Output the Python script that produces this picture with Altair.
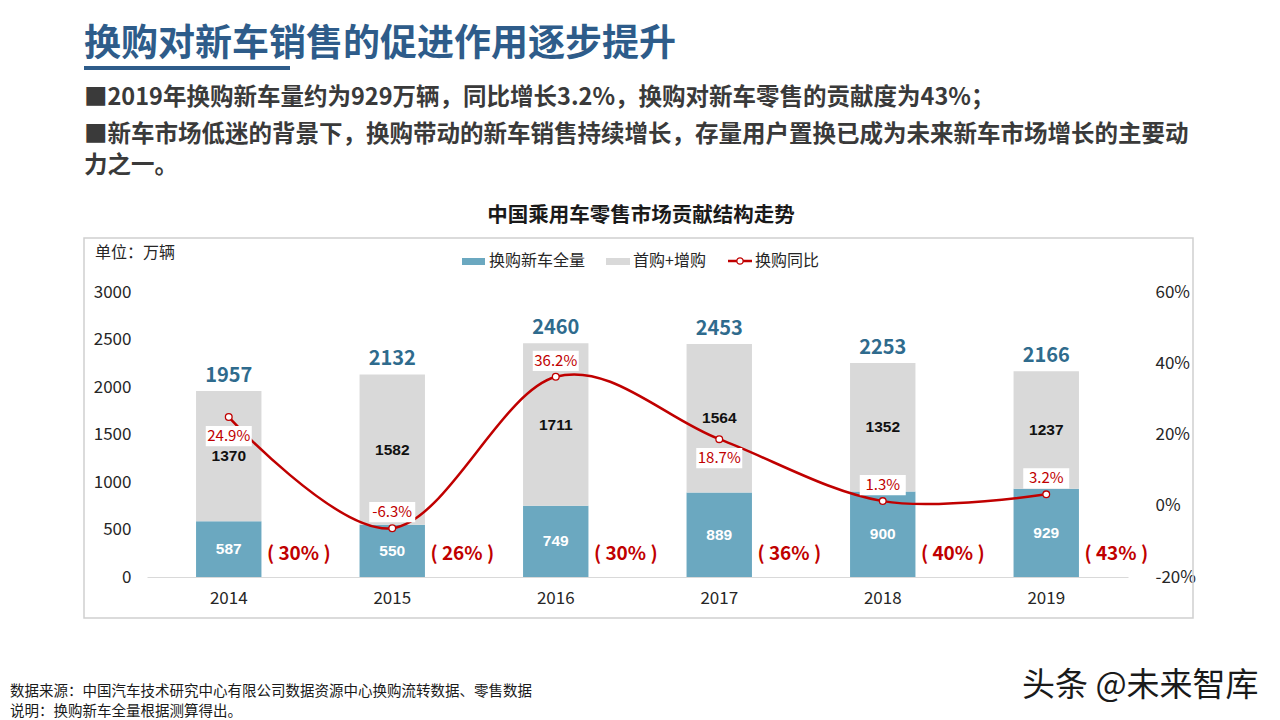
import altair as alt
import pandas as pd

# ---- data -------------------------------------------------------------
years = ["2014", "2015", "2016", "2017", "2018", "2019"]
replacement = [587, 550, 749, 889, 900, 929]          # 换购新车全量 (万辆)
first_and_add = [1370, 1582, 1711, 1564, 1352, 1237]  # 首购+增购 (万辆)
totals = [1957, 2132, 2460, 2453, 2253, 2166]         # 新车零售总量 (万辆)
yoy = [0.249, -0.063, 0.362, 0.187, 0.013, 0.032]     # 换购同比
share = [30, 26, 30, 36, 40, 43]                      # 换购贡献度 (%)
yoy_label_side = ["below", "above", "above", "below", "above", "above"]

seg_names = ["换购新车全量", "首购+增购"]
series_line = "换购同比"

# ---- style ------------------------------------------------------------
FONT = "Noto Sans CJK SC"
NUM_FONT = "Liberation Sans"
BLUE = "#6BA8C0"
GRAY = "#D9D9D9"
RED = "#C00000"
HEAD_BLUE = "#2E5C8A"
TOTAL_BLUE = "#2F6B8D"
DARK = "#3A3A3A"
AXIS_TXT = "#262626"

# ---- tables -----------------------------------------------------------
seg_rows = []
for i, yr in enumerate(years):
    b, g = replacement[i], first_and_add[i]
    seg_rows.append(dict(year=yr, seg=seg_names[0], base=0, top=b, mid=b / 2, value=b))
    seg_rows.append(dict(year=yr, seg=seg_names[1], base=b, top=b + g, mid=b + g / 2, value=g))
seg_df = pd.DataFrame(seg_rows)

tot_df = pd.DataFrame({"year": years, "total": totals,
                       "share_txt": [f"( {s}% )" for s in share]})

line_df = pd.DataFrame({
    "year": years,
    "yoy": yoy,
    "txt": [f"{v * 100:.1f}%" for v in yoy],
    "side": yoy_label_side,
})

one = alt.Data(values=[{"k": 0}])

x_scale = alt.Scale(domain=years, paddingInner=0.6, paddingOuter=0.3)
y_left = alt.Scale(domain=[0, 3000])
y_right = alt.Scale(domain=[-0.2, 0.6])

x_axis = alt.Axis(title=None, ticks=False, domainColor="#D9D9D9", domainWidth=1.2,
                  labelPadding=13, labelAngle=0, labelFontSize=17, labelColor=AXIS_TXT)
left_axis = alt.Axis(title=None, values=[0, 500, 1000, 1500, 2000, 2500, 3000], format="d",
                     ticks=False, domain=False, grid=False, labelPadding=16,
                     labelFontSize=17, labelColor=AXIS_TXT)
right_axis = alt.Axis(title=None, orient="right", values=[-0.2, 0, 0.2, 0.4, 0.6],
                      labelExpr="replace(format(datum.value, '.0%'), '\u2212', '-')",
                      ticks=False, domain=False, grid=False, labelPadding=27,
                      labelFontSize=17, labelColor=AXIS_TXT)

X = alt.X("year:N", scale=x_scale, axis=x_axis)


def YL(field):
    return alt.Y(field, scale=y_left, axis=left_axis)


def YR(field):
    return alt.Y(field, scale=y_right, axis=right_axis)


def note(text, x, y, size, color=DARK, weight="normal", align="left", font=FONT):
    return alt.Chart(one).mark_text(
        text=text, align=align, baseline="middle", fontSize=size,
        fontWeight=weight, color=color, font=font
    ).encode(x=alt.value(x), y=alt.value(y))


def box(x, x2, y, y2, **kw):
    return alt.Chart(one).mark_rect(**kw).encode(
        x=alt.value(x), x2=alt.value(x2), y=alt.value(y), y2=alt.value(y2))


# ---- page decorations (pixel positions relative to the plot origin) ---
frame = box(-63, 1046, -54, 326, fillOpacity=0, stroke="#D0D0D0", strokeWidth=1.5)
heading = note("换购对新车销售的促进作用逐步提升", -63, -247, 37, HEAD_BLUE, "bold")
underline = box(-63, 143, -226, -222, color=HEAD_BLUE)
bullet1 = note("■2019年换购新车量约为929万辆，同比增长3.2%，换购对新车零售的贡献度为43%；",
               -63, -194, 23.5, DARK, "bold")
bullet2 = note("■新车市场低迷的背景下，换购带动的新车销售持续增长，存量用户置换已成为未来新车市场增长的主要动",
               -63, -157, 23.5, DARK, "bold")
bullet3 = note("力之一。", -63, -126, 23.5, DARK, "bold")
chart_title = note("中国乘用车零售市场贡献结构走势", 494, -76, 20.5, "#1A1A1A", "bold", "center")
unit = note("单位：万辆", -52, -39, 16, AXIS_TXT)

leg_blue = box(315, 338, -34, -27, color=BLUE)
leg_blue_t = note(seg_names[0], 342, -31, 16, AXIS_TXT)
leg_gray = box(459, 483, -34, -27, color=GRAY)
leg_gray_t = note(seg_names[1], 486, -31, 16, AXIS_TXT)
leg_line = alt.Chart(one).mark_rule(color=RED, strokeWidth=2.5).encode(
    x=alt.value(581), x2=alt.value(605), y=alt.value(-31))
leg_dot = alt.Chart(one).mark_point(filled=True, fill="white", stroke=RED, strokeWidth=1.3,
                                    size=40, opacity=1).encode(x=alt.value(593), y=alt.value(-31))
leg_line_t = note(series_line, 608, -31, 16, AXIS_TXT)

source1 = note("数据来源：中国汽车技术研究中心有限公司数据资源中心换购流转数据、零售数据",
               -137, 400, 14.5, "#1A1A1A")
source2 = note("说明：换购新车全量根据测算得出。", -137, 420, 14.5, "#1A1A1A")
watermark = note("头条 @未来智库", 875, 394, 33, "#1A1A1A")

# ---- bars (left axis) -------------------------------------------------
bars = alt.Chart(seg_df).mark_bar().encode(
    x=X,
    y=YL("base:Q"),
    y2="top:Q",
    color=alt.Color("seg:N", scale=alt.Scale(domain=seg_names, range=[BLUE, GRAY]), legend=None),
)

seg_lab_blue = alt.Chart(seg_df).transform_filter(
    alt.datum.seg == seg_names[0]
).mark_text(color="white", fontWeight="bold", fontSize=15.5, font=NUM_FONT).encode(
    x=X, y=YL("mid:Q"), text="value:Q")

seg_lab_gray = alt.Chart(seg_df).transform_filter(
    alt.datum.seg == seg_names[1]
).mark_text(color="#111111", fontWeight="bold", fontSize=15.5, font=NUM_FONT).encode(
    x=X, y=YL("mid:Q"), text="value:Q")

total_lab = alt.Chart(tot_df).mark_text(
    color=TOTAL_BLUE, fontWeight="bold", fontSize=20, font=FONT, dy=-15
).encode(x=X, y=YL("total:Q"), text="total:Q")

share_lab = alt.Chart(tot_df).mark_text(
    color=RED, fontWeight="bold", fontSize=19, font=FONT, dx=70
).encode(x=X, y=alt.value(262), text="share_txt:N")

left_group = alt.layer(
    frame, heading, underline, bullet1, bullet2, bullet3, chart_title, unit,
    leg_blue, leg_blue_t, leg_gray, leg_gray_t, leg_line, leg_dot, leg_line_t,
    source1, source2, watermark,
    bars, seg_lab_blue, seg_lab_gray, total_lab, share_lab,
)

# ---- yoy line (right axis) -------------------------------------------
line = alt.Chart(line_df).mark_line(
    interpolate="cardinal", color=RED, strokeWidth=2.5
).encode(x=X, y=YR("yoy:Q"))

BOX_PATH = "M-1,-0.44L1,-0.44L1,0.44L-1,0.44Z"


def yoy_labels(side, offset):
    base = alt.Chart(line_df).transform_filter(alt.datum.side == side)
    bg = base.mark_point(shape=BOX_PATH, size=46 * 46, filled=True, fill="white",
                         opacity=1, yOffset=offset).encode(x=X, y=YR("yoy:Q"))
    txt = base.mark_text(color=RED, fontSize=15, font=FONT, dy=offset).encode(
        x=X, y=YR("yoy:Q"), text="txt:N")
    return bg + txt


dots = alt.Chart(line_df).mark_point(
    filled=True, fill="white", stroke=RED, strokeWidth=1.3, size=45, opacity=1
).encode(x=X, y=YR("yoy:Q"))

right_group = alt.layer(line, yoy_labels("above", -16), yoy_labels("below", 19), dots)

chart = alt.layer(left_group, right_group).resolve_scale(y="independent").properties(
    width=981,
    height=285,
    padding={"left": 147, "top": 292, "right": 152, "bottom": 143},
    autosize=alt.AutoSizeParams(type="none"),
    background="white",
).configure_view(stroke=None).configure_axis(labelFont=FONT)

chart.save("out.html", embed_options={"renderer": "svg", "actions": False})
